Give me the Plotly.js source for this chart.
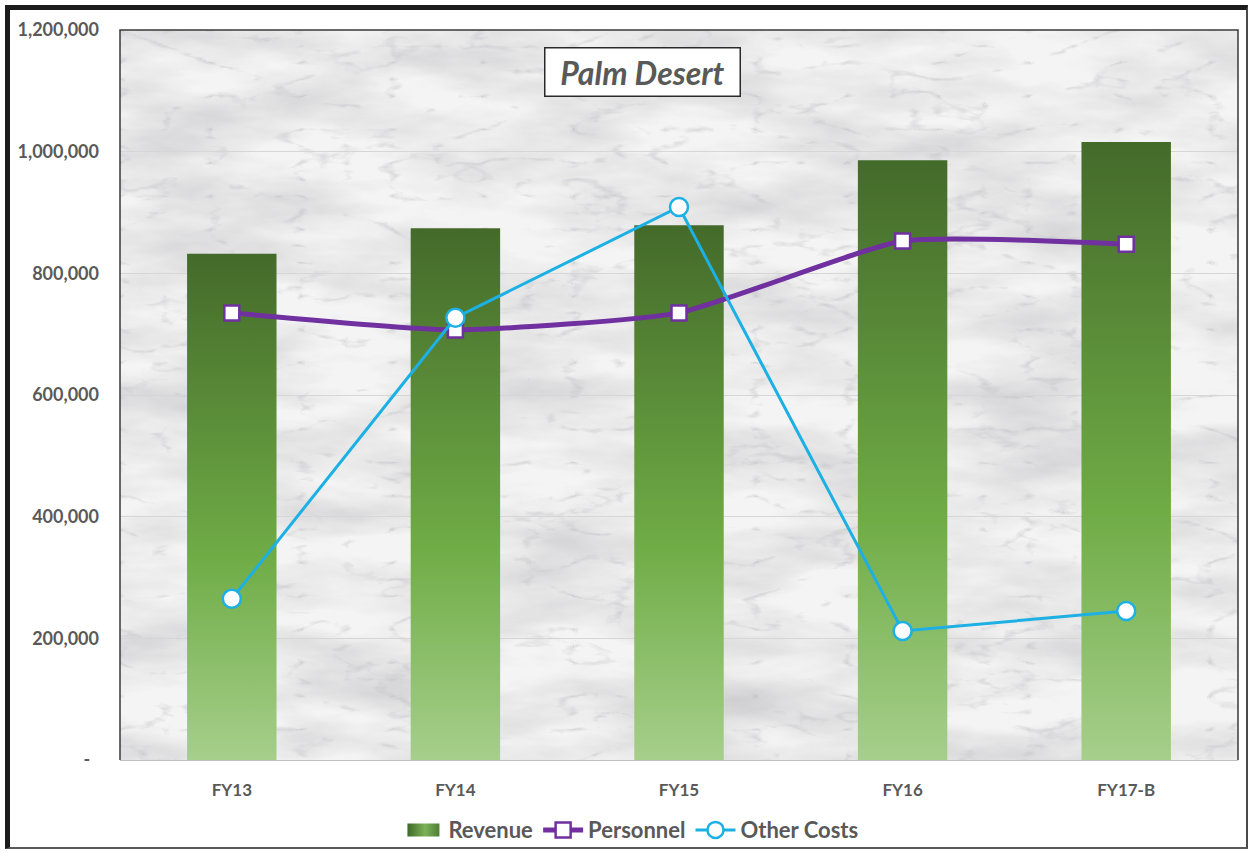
<!DOCTYPE html>
<html>
<head>
<meta charset="utf-8">
<script src="https://cdn.plot.ly/plotly-3.0.1.min.js"></script>
<style>
  html, body { margin: 0; padding: 0; background: #ffffff; }
  #chart { position: absolute; left: 0; top: 0; width: 1255px; height: 852px; }
  #frame { position: absolute; left: 5px; top: 5px; width: 1243px; height: 844px;
           border-top: 5px solid #1b1b1b; border-left: 5px solid #1b1b1b;
           border-right: 2px solid #4a4a4a; border-bottom: 2px solid #5a5a5a;
           box-sizing: border-box; pointer-events: none; }
</style>
</head>
<body>
<div id="chart"></div>
<div id="frame"></div>
<script>
// ---- data ----
const categories = ['FY13', 'FY14', 'FY15', 'FY16', 'FY17-B'];
const revenue    = [832000, 874000, 879000, 986000, 1016000];
const personnel  = [735000, 707000, 735000, 853000, 848000];
const otherCosts = [265000, 727000, 909000, 212000, 245000];
const yTickVals  = [0, 200000, 400000, 600000, 800000, 1000000, 1200000];
const yTickText  = ['-\u00a0\u00a0', '200,000', '400,000', '600,000', '800,000', '1,000,000', '1,200,000'];
const chartTitle = 'Palm Desert';

// ---- styles ----
const FONT = 'Lato, "Open Sans", "DejaVu Sans", sans-serif';
const GREY = '#595959';
const PURPLE = '#7030a0';
const CYAN = '#1cb0e4';

const marbleSvg =
  "<svg xmlns='http://www.w3.org/2000/svg' width='1118' height='730'>" +
  "<filter id='a' x='0' y='0' width='100%' height='100%'>" +
  "<feTurbulence type='fractalNoise' baseFrequency='0.006 0.02' numOctaves='5' seed='7'/>" +
  "<feColorMatrix type='matrix' values='0 0 0 0 0.55 0 0 0 0 0.55 0 0 0 0 0.57 1.3 0 0 0 -0.45'/></filter>" +
  "<filter id='b' x='0' y='0' width='100%' height='100%'>" +
  "<feTurbulence type='turbulence' baseFrequency='0.011 0.03' numOctaves='4' seed='3'/>" +
  "<feColorMatrix type='matrix' values='0 0 0 0 0.5 0 0 0 0 0.5 0 0 0 0 0.53 -3 0 0 0 0.5'/></filter>" +
  "<rect width='100%' height='100%' fill='#f4f4f4'/>" +
  "<rect width='100%' height='100%' filter='url(#a)'/>" +
  "<rect width='100%' height='100%' filter='url(#b)'/>" +
  "</svg>";
const marbleUri = 'data:image/svg+xml;charset=utf-8,' + encodeURIComponent(marbleSvg);

const traces = [
  {
    type: 'bar', name: 'Revenue', x: categories, y: revenue,
    marker: { color: '#5f9638', line: { width: 0 } },
    hoverinfo: 'skip'
  },
  {
    type: 'scatter', mode: 'lines+markers', name: 'Personnel', x: categories, y: personnel,
    line: { color: PURPLE, width: 5, shape: 'spline', smoothing: 0.5 },
    marker: { symbol: 'square', size: 15, color: '#ffffff', line: { color: PURPLE, width: 2.5 } },
    hoverinfo: 'skip'
  },
  {
    type: 'scatter', mode: 'lines+markers', name: 'Other Costs', x: categories, y: otherCosts,
    line: { color: CYAN, width: 3 },
    marker: { symbol: 'circle', size: 18, color: '#ffffff', line: { color: CYAN, width: 2.5 } },
    hoverinfo: 'skip'
  }
];

const layout = {
  width: 1255, height: 852,
  margin: { l: 120, r: 17, t: 30, b: 92, autoexpand: false },
  paper_bgcolor: '#ffffff',
  plot_bgcolor: '#ececec',
  font: { family: FONT, color: GREY, size: 17, weight: 'bold' },
  bargap: 0.6,
  showlegend: true,
  legend: {
    orientation: 'h', x: 0.457, xanchor: 'center', y: -0.096, yanchor: 'middle',
    font: { family: FONT, size: 22, color: GREY, weight: 'bold' },
    bgcolor: 'rgba(0,0,0,0)', itemwidth: 40, traceorder: 'normal'
  },
  xaxis: {
    type: 'category', showgrid: false, zeroline: false,
    showline: true, linecolor: '#bfbfbf', linewidth: 1,
    ticks: '', ticklabelstandoff: 15,
    tickfont: { family: FONT, size: 17, color: GREY, weight: 'bold' }
  },
  yaxis: {
    range: [0, 1200000], tickmode: 'array', tickvals: yTickVals, ticktext: yTickText,
    showgrid: true, gridcolor: '#d6d6d6', gridwidth: 1, zeroline: false,
    ticks: '', ticklabelstandoff: 20, showline: false,
    tickfont: { family: FONT, size: 18, color: GREY, weight: 'bold' }
  },
  images: [{
    source: marbleUri, xref: 'paper', yref: 'paper', x: 0, y: 1,
    sizex: 1, sizey: 1, sizing: 'stretch', xanchor: 'left', yanchor: 'top', layer: 'below'
  }],
  shapes: [{
    type: 'path', xref: 'paper', yref: 'paper', path: 'M0,0 L0,1 L1,1 L1,0',
    line: { color: '#3a3a3a', width: 1.5 }, layer: 'above'
  }],
  annotations: [{
    text: chartTitle, xref: 'paper', yref: 'paper', x: 0.4675, y: 0.9425,
    xanchor: 'center', yanchor: 'middle', showarrow: false,
    font: { family: FONT, size: 32, color: GREY, weight: 'bold', style: 'italic' },
    bgcolor: '#ffffff', bordercolor: '#2a2a2a', borderwidth: 1.5, borderpad: 3,
    width: 188, height: 41
  }]
};

function ensureGradients(gd) {
  const svg = gd.querySelector('svg.main-svg');
  if (!svg) return;
  let defs = svg.querySelector('defs');
  const NS = 'http://www.w3.org/2000/svg';
  if (!defs) { defs = document.createElementNS(NS, 'defs'); svg.insertBefore(defs, svg.firstChild); }
  function mk(id, x2, y2, stops) {
    if (document.getElementById(id)) return;
    const g = document.createElementNS(NS, 'linearGradient');
    g.setAttribute('id', id);
    g.setAttribute('x1', '0'); g.setAttribute('y1', '0');
    g.setAttribute('x2', x2); g.setAttribute('y2', y2);
    stops.forEach(s => {
      const st = document.createElementNS(NS, 'stop');
      st.setAttribute('offset', s[0]);
      st.setAttribute('stop-color', s[1]);
      g.appendChild(st);
    });
    defs.appendChild(g);
  }
  mk('revGrad', '0', '1', [['0', '#446a2a'], ['0.6', '#6fac46'], ['1', '#a6cf8b']]);
  mk('legGrad', '1', '0', [['0', '#3f6a27'], ['0.55', '#7cb158'], ['1', '#4f7f33']]);
}

function applyStyling(gd) {
  ensureGradients(gd);
  gd.querySelectorAll('.barlayer .trace.bars .point path').forEach(p => {
    p.style.fill = 'url(#revGrad)';
  });
  const legTraces = gd.querySelectorAll('.legend .traces');
  if (legTraces.length) {
    legTraces[0].querySelectorAll('.legendpoints path').forEach(p => {
      p.setAttribute('d', 'M16,6.5H-16V-6.5H16Z');
      p.style.fill = 'url(#legGrad)';
      p.style.stroke = 'none';
    });
  }
}

const gd = document.getElementById('chart');
Plotly.newPlot(gd, traces, layout, { staticPlot: true, displayModeBar: false }).then(() => {
  applyStyling(gd);
  gd.on && gd.on('plotly_afterplot', () => applyStyling(gd));
});
</script>
</body>
</html>
